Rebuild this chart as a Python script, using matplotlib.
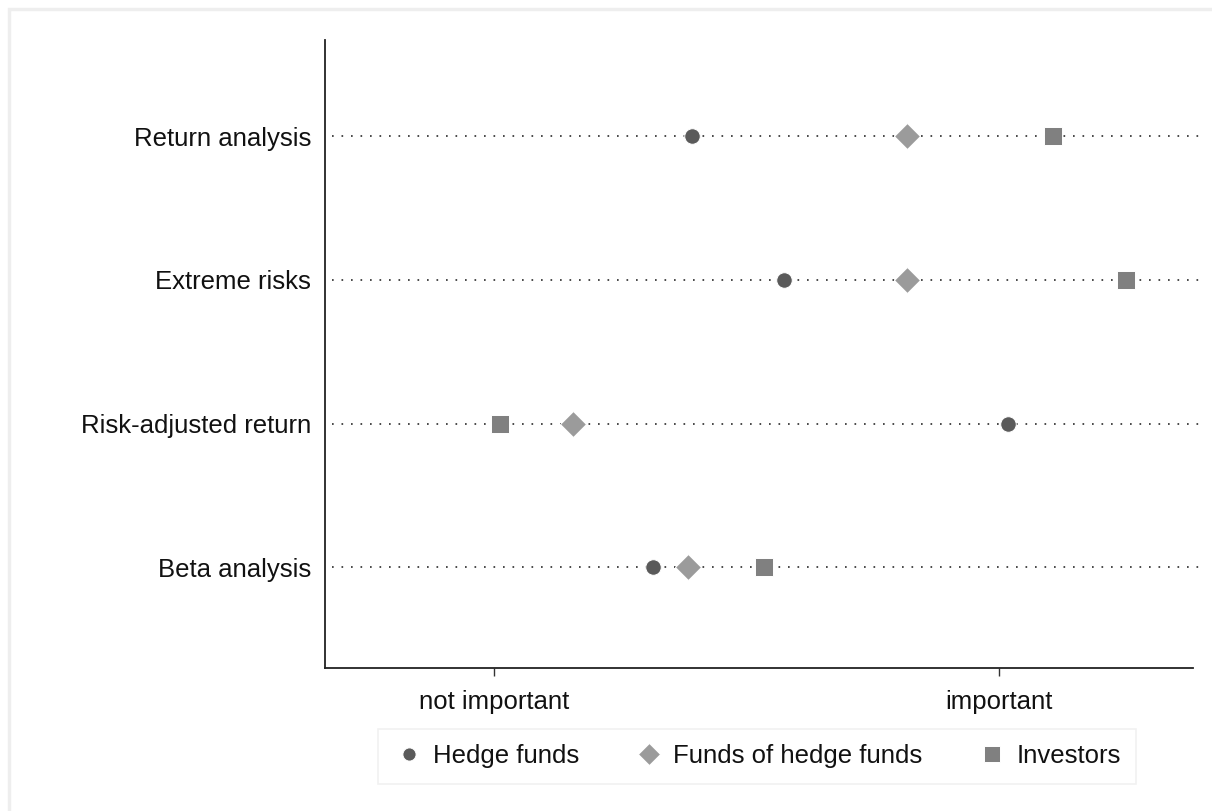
import matplotlib.pyplot as plt
from matplotlib.patches import Rectangle

plt.rcParams['font.family'] = ['Liberation Sans', 'DejaVu Sans']

# categories top to bottom
categories = ["Return analysis", "Extreme risks", "Risk-adjusted return", "Beta analysis"]
# scale: 0 = not important, 1 = important
hedge_funds = [0.392, 0.574, 1.018, 0.315]
funds_of_hf = [0.818, 0.818, 0.156, 0.384]
investors = [1.107, 1.253, 0.012, 0.535]
tick_pos = [0, 1]
tick_labels = ["not important", "important"]

fig = plt.figure(figsize=(12.12, 8.11), dpi=100)
ax = fig.add_axes([0.268, 0.1763, 0.716, 0.7744])

ypos = list(range(1, len(categories) + 1))

# dotted guide lines
for y in ypos:
    ax.plot([-0.32, 1.40], [y, y], linestyle=(0, (1, 4.7)), color='#2a2a2a',
            linewidth=1.2, zorder=1, clip_on=False)

ax.scatter(hedge_funds, ypos, marker='o', s=125, color='#5a5a5a', zorder=3,
           label='Hedge funds', edgecolors='white', linewidths=0.7)
ax.scatter(funds_of_hf, ypos, marker='D', s=175, color='#9b9b9b', zorder=3,
           label='Funds of hedge funds', edgecolors='white', linewidths=0.7)
ax.scatter(investors, ypos, marker='s', s=175, color='#808080', zorder=3,
           label='Investors', edgecolors='white', linewidths=0.7)

ax.set_xlim(-0.335, 1.384)
ax.set_ylim(4.70, 0.33)

ax.set_yticks(ypos)
ax.set_yticklabels(categories, fontsize=18.5, color='#111111')
ax.tick_params(axis='y', length=0, pad=10)
ax.set_xticks(tick_pos)
ax.set_xticklabels(tick_labels, fontsize=18.5, color='#111111')
ax.tick_params(axis='x', length=6, width=1, color='#333333', pad=10)

for s in ['top', 'right']:
    ax.spines[s].set_visible(False)
for s in ['left', 'bottom']:
    ax.spines[s].set_color('#222222')
    ax.spines[s].set_linewidth(1.3)

leg = fig.legend(loc='center', bbox_to_anchor=(0.6245, 0.0675), ncol=3,
                 fontsize=18.5, frameon=True, fancybox=False, handletextpad=0.35,
                 columnspacing=2.1, markerscale=0.85, borderpad=0.6,
                 handlelength=1.2, labelcolor='#111111', scatteryoffsets=[0.5])
leg.get_frame().set_edgecolor('#eeeeee')
leg.get_frame().set_linewidth(1.2)

# light outer frame
fig.patches.append(Rectangle((9 / 1212, -0.05), 1.1, 1 - 9 / 811 + 0.05,
                             transform=fig.transFigure, fill=False,
                             edgecolor='#eeeeee', linewidth=2.5))

fig.savefig('out.png', dpi=100)
